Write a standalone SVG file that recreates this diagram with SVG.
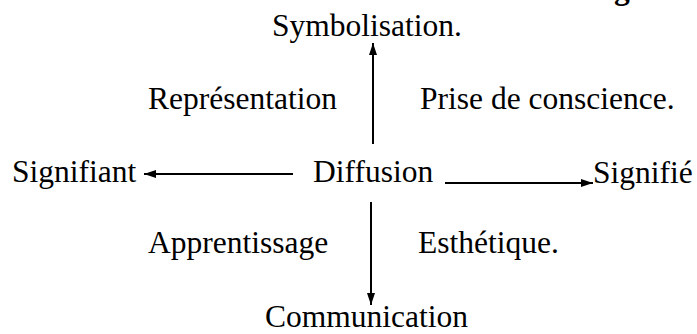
<svg xmlns="http://www.w3.org/2000/svg" width="697" height="334" viewBox="0 0 697 334">
<defs>
<style>
.c{stroke:#000;stroke-width:2;fill:none}
</style>
<marker id="ah" viewBox="0 0 12 8" refX="12" refY="4" markerWidth="12" markerHeight="8" markerUnits="userSpaceOnUse" orient="auto">
<path d="M0,0 L12,4 L0,8 Z" fill="#000"/>
</marker>
</defs>
<rect width="697" height="334" fill="#fff"/>
<text x="614" y="-1" font-family="Liberation Serif" font-size="31.5" font-weight="bold">g</text>
<g id="connectors">
<line class="c" x1="373" y1="144" x2="373" y2="43" marker-end="url(#ah)"/>
<line class="c" x1="371" y1="202" x2="371" y2="305" marker-end="url(#ah)"/>
<line class="c" x1="293" y1="174" x2="144" y2="174" marker-end="url(#ah)"/>
<line class="c" x1="445" y1="183" x2="593" y2="183" marker-end="url(#ah)"/>
</g>
<g font-family="Liberation Serif" font-size="31.5" fill="#000">
<g id="symbolisation"><text x="272" y="36">Symbolisation.</text></g>
<g id="representation"><text x="148" y="109">Représentation</text></g>
<g id="prise"><text x="420" y="109">Prise de conscience.</text></g>
<g id="signifiant"><text x="12" y="182">Signifiant</text></g>
<g id="diffusion"><text x="313" y="182">Diffusion</text></g>
<g id="signifie"><text x="593" y="183">Signifié</text></g>
<g id="apprentissage"><text x="148" y="253">Apprentissage</text></g>
<g id="esthetique"><text x="418" y="253">Esthétique.</text></g>
<g id="communication"><text x="265" y="327">Communication</text></g>
</g>
</svg>
